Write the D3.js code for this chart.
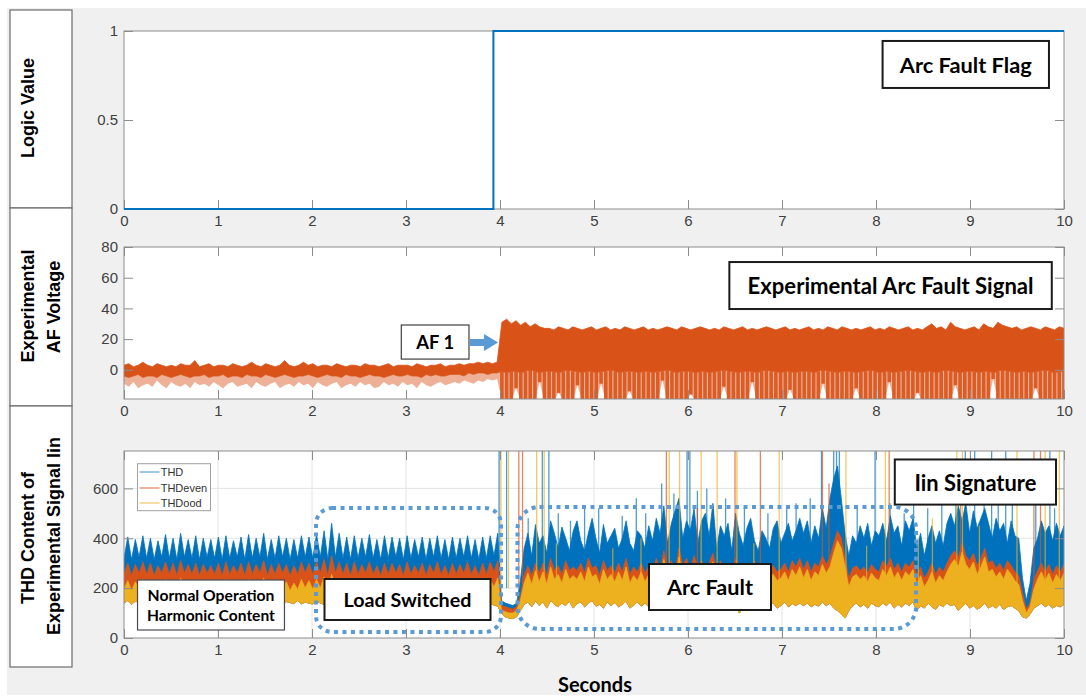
<!DOCTYPE html>
<html><head><meta charset="utf-8">
<script src="https://cdn.jsdelivr.net/npm/d3@7"></script>
<style>body{margin:0;background:#fff;} svg{display:block}</style>
</head><body><svg id="c" width="1086" height="696"></svg>
<script>
// ---------------- data ----------------
const xTicks = [0,1,2,3,4,5,6,7,8,9,10];
const flagTicks = [0,0.5,1];
const afTicks = [0,20,40,60,80];
const thdTicks = [0,200,400,600];

const flagT = [0, 3.93, 3.93, 10];
const flagV = [0, 0, 1, 1];

// experimental AF voltage, envelope per 0.05 s bin (200 bins)
const afHi = [3,4,2,3,5,3,2,4,3,2, 3,2,4,3,3,6,2,3,4,2, 3,3,2,4,3,2,3,5,3,2, 4,3,2,3,6,3,2,3,5,3,
 4,2,3,3,2,4,3,2,3,3, 2,4,3,3,2,3,4,2,3,3, 3,2,4,3,2,3,3,4,2,3, 3,4,3,4,4,5,4,5,4,5,
 31,33,30,32,29,31,28,30,28,27, 27,26,28,27,26,28,27,26,27,28, 26,27,28,26,27,26,28,27,26,27,
 28,26,27,26,27,28,27,26,28,27, 26,27,28,27,26,27,26,28,27,26, 27,28,26,27,26,27,28,27,26,27,
 28,26,27,26,27,28,26,27,26,28, 27,26,28,27,26,27,26,27,28,26, 27,26,28,27,26,27,28,26,27,26,
 28,30,27,28,26,31,28,27,26,27, 28,26,30,28,27,31,29,28,27,28, 26,27,28,27,26,28,27,26,28,27];
const afLo = [-4,-5,-4,-3,-5,-4,-4,-5,-3,-4, -5,-4,-3,-4,-5,-4,-4,-3,-5,-4, -4,-3,-5,-4,-4,-5,-3,-4,-4,-5,
 -3,-4,-5,-4,-3,-4,-5,-4,-4,-3, -4,-5,-4,-3,-4,-4,-5,-3,-4,-4, -5,-4,-3,-4,-4,-5,-4,-3,-4,-4,
 -3,-4,-4,-5,-3,-4,-3,-4,-4,-3, -3,-3,-4,-2,-3,-2,-2,-3,-2,-2,
 -1,-2,-1,-1,-2,-1,0,-1,-2,-1, -1,-1,-2,-1,0,-1,-1,-2,-1,-1, -2,-1,-1,0,-1,-2,-1,-1,-1,-2,
 -1,-1,-2,-1,-1,0,-1,-2,-1,-1, -1,-2,-1,-1,-2,-1,-1,0,-1,-1, -2,-1,-1,-1,-2,-1,0,-1,-1,-2,
 -1,-1,-2,-1,-1,-1,-2,-1,0,-1, -1,-2,-1,-1,-1,-2,-1,-1,0,-1, -2,-1,-1,-2,-1,-1,0,-1,-1,-2,
 -1,-1,-2,-1,0,-1,-1,-2,-1,-1, -1,-2,-1,-1,-2,-1,0,-1,-1,-2, -1,-1,-2,-1,-1,0,-1,-2,-1,-1];
const afDip = [-9,-11,-8,-12,-10,-9,-11,-7,-10,-12, -8,-10,-11,-9,-12,-8,-10,-9,-11,-8, -10,-12,-9,-8,-11,-10,-9,-12,-8,-10,
 -11,-9,-8,-12,-10,-9,-11,-8,-10,-9, -12,-8,-10,-11,-9,-8,-12,-10,-9,-11, -8,-10,-9,-12,-11,-8,-10,-9,-11,-8,
 -10,-9,-12,-8,-10,-11,-9,-8,-10,-9, -8,-9,-7,-8,-9,-7,-8,-6,-7,-6,
 -20,-20,-20,-12,-20,-20,-20,-20,-8,-20, -20,-20,-15,-20,-20,-20,-10,-20,-20,-20, -20,-9,-20,-20,-20,-20,-20,-14,-20,-20,
 -20,-20,-20,-20,-7,-20,-20,-20,-20,-20, -16,-20,-20,-20,-20,-20,-20,-11,-20,-20, -20,-20,-20,-8,-20,-20,-20,-20,-20,-20,
 -20,-13,-20,-20,-20,-20,-20,-20,-9,-20, -20,-20,-20,-20,-20,-12,-20,-20,-20,-20, -20,-20,-8,-20,-20,-20,-20,-20,-15,-20,
 -20,-20,-20,-20,-20,-20,-10,-20,-20,-20, -20,-20,-20,-20,-6,-20,-20,-20,-20,-20, -20,-20,-20,-12,-20,-20,-20,-20,-20,-20];

// THD content, upper envelope per 0.04 s bin (250 bins)
const thdHi = [320,405,315,395,325,410,320,400,315,390, 325,415,320,400,315,420,325,395,320,410,
 315,400,325,395,320,405,315,410,320,390, 325,405,315,415,320,400,325,420,315,395,
 320,410,325,400,315,395,320,410,325,405, 320,415,325,430,315,460,325,420,320,405,
 315,410,320,400,325,415,320,395,315,410, 320,405,325,400,315,410,320,395,325,405,
 315,400,325,410,320,395,315,405,320,400, 325,410,320,395,315,405,320,410,330,420,
 150,140,135,130,140,230,360,420,330,455, 380,410,340,470,420,360,445,400,350,430,
 470,390,350,420,480,400,340,455,380,410, 440,360,400,470,380,350,430,410,360,450,
 390,480,420,530,380,460,510,560,400,470, 430,520,380,470,500,410,540,360,450,410,
 460,350,500,420,370,440,480,390,350,430, 400,360,440,470,380,420,460,390,430,480,
 420,470,380,450,400,520,440,560,640,690, 560,420,330,410,380,450,400,460,370,430,
 410,460,390,490,420,450,370,470,430,480, 360,420,330,400,450,380,430,370,460,500,
 450,530,470,540,420,510,440,480,520,460, 400,480,430,460,380,470,410,400,240,150,
 220,360,400,470,420,450,390,460,410,450];
const evenHi = [255,300,250,295,260,305,255,300,250,290, 260,305,255,300,250,310,260,295,255,300,
 250,295,260,290,255,300,250,305,255,290, 260,300,250,305,255,295,260,310,250,295,
 255,300,260,295,250,290,255,305,260,300, 255,305,260,315,250,330,260,305,255,300,
 250,305,255,295,260,305,255,290,250,300, 255,300,260,295,250,305,255,290,260,300,
 250,295,260,305,255,290,250,300,255,295, 260,305,255,290,250,300,255,305,265,310,
 130,125,120,115,125,170,250,290,250,300, 260,300,250,320,270,290,255,310,270,285,
 270,300,260,320,280,290,250,310,270,290, 260,300,265,320,255,285,265,300,260,290,
 270,320,265,350,280,310,265,360,290,320, 270,330,285,310,265,300,340,270,310,275,
 300,260,320,280,250,300,270,310,260,285, 250,280,290,265,275,300,265,310,285,320,
 275,310,265,300,285,330,295,320,380,430, 400,320,240,280,290,270,285,260,295,275,
 265,310,285,320,275,300,265,300,285,310, 250,285,240,265,300,255,285,265,300,330,
 350,320,380,330,310,340,290,320,360,300, 310,280,300,270,310,290,265,250,180,115,
 140,230,270,300,265,295,255,290,265,295];
const oddHi = [195,230,190,225,200,235,195,230,190,220, 200,235,195,230,190,240,200,225,195,230,
 190,225,200,220,195,230,190,235,195,220, 200,230,190,235,195,225,200,240,190,225,
 195,230,200,225,190,220,195,235,200,230, 195,235,200,245,190,255,200,235,195,230,
 190,235,195,225,200,235,195,220,190,230, 195,230,200,225,190,235,195,220,200,230,
 190,225,200,235,195,220,190,230,195,225, 200,235,195,220,190,230,195,235,205,240,
 110,105,100,100,110,150,220,260,215,270, 225,265,215,285,235,255,220,275,235,250,
 235,265,225,285,245,255,215,275,235,255, 225,265,230,285,220,250,230,265,225,255,
 235,285,230,315,245,275,230,325,255,285, 235,295,250,275,230,265,305,235,275,240,
 265,225,285,245,215,265,235,275,225,250, 215,245,255,230,240,265,230,275,250,285,
 240,275,230,265,250,295,260,285,340,390, 360,285,205,245,255,235,250,225,260,240,
 230,275,250,285,240,265,230,265,250,275, 215,250,205,230,265,220,250,230,265,295,
 315,285,345,295,275,305,255,285,325,265, 275,245,265,235,275,255,230,215,150,100,
 125,195,235,265,230,260,220,255,230,260];
const thdFloor = [140,150,135,148,142,138,150,136,145,140, 138,148,135,150,140,137,146,142,135,150,
 140,145,137,150,138,143,148,135,140,147, 136,150,141,138,147,135,144,150,139,136,
 148,140,135,146,142,138,150,137,144,140, 136,149,140,135,146,141,138,150,135,143,
 147,138,142,150,136,141,148,135,145,140, 138,150,136,144,147,139,135,148,142,137,
 150,140,136,146,141,138,149,135,143,147, 139,136,150,142,137,145,140,138,132,128,
 100,85,80,78,85,110,135,145,125,150, 130,145,120,150,135,125,140,130,148,120,
 138,145,125,140,150,128,135,120,145,130, 142,125,135,148,120,132,145,128,140,125,
 135,145,120,150,130,140,125,110,135,145, 128,140,120,135,125,140,150,115,135,125,
 140,120,135,100,125,140,115,130,120,135, 125,135,140,120,130,145,125,138,130,140,
 130,140,125,135,128,145,130,140,120,110, 95,80,110,130,140,125,135,120,140,130,
 125,140,130,145,120,135,125,140,130,145, 110,130,120,140,125,115,135,125,140,130,
 135,110,125,140,120,130,115,125,140,120, 130,120,135,115,125,130,120,110,85,80,
 95,120,130,140,125,135,120,130,125,135];

// isolated spikes (time s, peak value)
const spikeThdT   = [3.99,4.07,4.3,4.45,4.52,4.62,4.75,4.9,5.05,5.3,5.45,5.55,5.72,5.85,5.99,6.02,6.1,6.2,6.27,6.4,6.6,6.85,
  7.05,7.15,7.3,7.42,7.55,7.58,7.61,7.8,7.99,8.15,8.3,8.4,8.55,8.7,8.85,8.95,9.05,9.15,9.23,9.3,9.38,9.45,9.7,9.85,9.9];
const spikeThdTop = [800,800,480,800,800,500,470,520,520,490,560,500,620,580,800,800,590,600,530,560,520,500,
  520,540,560,800,800,800,800,520,800,540,500,560,520,560,620,800,800,600,800,540,800,560,560,800,520];
const spikeEvenT   = [4.2,4.24,5.77,6.1,6.5,6.77,7.43,7.5,8.14,8.9,9.68,9.75];
const spikeEvenTop = [800,800,800,520,800,800,800,620,800,560,800,800];
const spikeOddT   = [4.01,4.09,4.39,4.47,4.6,5.2,5.5,5.8,5.91,6.14,6.31,6.52,6.7,6.97,7.68,7.9,8.1,8.45,8.6,8.86,8.92,9.1,9.5,9.8,9.95];
const spikeOddTop = [800,800,800,800,380,360,400,800,800,800,800,800,380,800,800,370,800,400,480,800,800,450,800,800,800];

const legendNames = ["THD","THDeven","THDood"];

// ---------------- layout ----------------
const COL = {thd:'#0072BD', even:'#D95319', odd:'#EDB120'};
const LEG = ['#7db6de','#eb9a7b','#f4d089'];
const X0 = 124, X1 = 1064;
const x = d3.scaleLinear([0,10],[X0,X1]);
const y1 = d3.scaleLinear([0,1],[209,31]);
const y2 = d3.scaleLinear([-19,80],[399,247]);
const y3 = d3.scaleLinear([0,750],[638,451]);

const svg = d3.select('#c');
svg.append('rect').attr('x',7).attr('y',8).attr('width',1079).attr('height',687).attr('fill','#f0f0f0');
const defs = svg.append('defs');

// left label boxes
[[10,208],[208,406],[406,667]].forEach(([a,b])=>{
  svg.append('rect').attr('x',10).attr('y',a).attr('width',62).attr('height',b-a)
    .attr('fill','#fff').attr('stroke','#6b6b6b').attr('stroke-width',1.2);
});
function vlabel(cx, cy, txt){
  svg.append('text').attr('transform',`translate(${cx},${cy}) rotate(-90)`)
    .attr('text-anchor','middle').attr('dominant-baseline','central')
    .attr('font-family','Liberation Sans, Arial, sans-serif').attr('font-weight','bold')
    .attr('font-size',18).attr('fill','#000').text(txt);
}
vlabel(28,108,'Logic Value');
vlabel(28,306,'Experimental');
vlabel(54,307,'AF Voltage');
vlabel(28,538,'THD Content of');
vlabel(54,536,'Experimental Signal Iin');

function panel(id, y, grid){
  const [b,t] = y.range();
  svg.append('rect').attr('x',X0).attr('y',t).attr('width',X1-X0).attr('height',b-t).attr('fill','#fff');
  if(grid){
    const gg = svg.append('g').attr('stroke','#e4e4e4').attr('stroke-width',1);
    gg.selectAll('.gx').data(xTicks.slice(1,-1)).join('line')
      .attr('x1',d=>x(d)).attr('x2',d=>x(d)).attr('y1',t).attr('y2',b);
    gg.selectAll('.gy').data(grid).join('line')
      .attr('x1',X0).attr('x2',X1).attr('y1',d=>y(d)).attr('y2',d=>y(d));
  }
  defs.append('clipPath').attr('id',id).append('rect').attr('x',X0).attr('y',t).attr('width',X1-X0).attr('height',b-t);
  return svg.append('g').attr('clip-path',`url(#${id})`);
}
function axes(y, ticks, topTicks){
  const [b,t] = y.range();
  const st = g => {
    g.attr('font-size',15).attr('font-family','Liberation Sans, Arial, sans-serif');
    g.selectAll('.domain').remove();
    g.selectAll('.tick line').attr('stroke','#8c8c8c');
    g.selectAll('text').attr('fill','#404040');
  };
  svg.append('g').attr('transform',`translate(0,${b})`)
    .call(d3.axisBottom(x).tickValues(xTicks).tickSizeInner(-9).tickSizeOuter(0).tickPadding(6).tickFormat(d3.format('d'))).call(st);
  if(topTicks) svg.append('g').attr('transform',`translate(0,${t})`)
    .call(d3.axisTop(x).tickValues(xTicks).tickSizeInner(-9).tickSizeOuter(0).tickFormat('')).call(st);
  svg.append('g').attr('transform',`translate(${X0},0)`)
    .call(d3.axisLeft(y).tickValues(ticks).tickSizeInner(-9).tickSizeOuter(0).tickPadding(6).tickFormat(d=>String(d))).call(st);
  svg.append('g').attr('transform',`translate(${X1},0)`)
    .call(d3.axisRight(y).tickValues(ticks).tickSizeInner(-9).tickSizeOuter(0).tickFormat('')).call(st);
  svg.append('rect').attr('x',X0).attr('y',t).attr('width',X1-X0).attr('height',b-t)
    .attr('fill','none').attr('stroke','#8c8c8c').attr('stroke-width',1);
}

// ---- panel 1: flag
const p1 = panel('cl1', y1, null);
axes(y1, flagTicks, false);
svg.append('path').datum(flagT.map((t,i)=>[t,flagV[i]]))
  .attr('d', d3.line().x(d=>x(d[0])).y(d=>y1(d[1])))
  .attr('fill','none').attr('stroke',COL.thd).attr('stroke-width',2);

// ---- panel 2: AF voltage
const p2 = panel('cl2', y2, null);
const afT = afHi.map((d,i)=> i*10/(afHi.length-1));
p2.append('path').datum(afDip)
  .attr('d', d3.area().x((d,i)=>x(afT[i])).y0((d,i)=>y2(afLo[i])).y1(d=>y2(d)))
  .attr('fill',COL.even).attr('fill-opacity',0.45);
p2.append('g').selectAll('line').data(afDip).join('line')
  .attr('x1',(d,i)=>x(afT[i])).attr('x2',(d,i)=>x(afT[i]))
  .attr('y1',(d,i)=>y2(afLo[i])).attr('y2',d=>y2(d))
  .attr('stroke',COL.even).attr('stroke-opacity',(d,i)=>afHi[i]>15?0.9:0)
  .attr('stroke-width',3.6);
p2.append('path').datum(afHi)
  .attr('d', d3.area().x((d,i)=>x(afT[i])).y0((d,i)=>y2(afLo[i])).y1(d=>y2(d)))
  .attr('fill',COL.even).attr('stroke',COL.even).attr('stroke-width',0.8);
axes(y2, afTicks, true);

// ---- panel 3: THD
const p3 = panel('cl3', y3, [200,400,600]);
const thdT = thdHi.map((d,i)=> i*10/(thdHi.length-1));
function series(hi, col, sT, sTop){
  p3.append('g').selectAll('line').data(sT).join('line')
    .attr('x1',d=>x(d)).attr('x2',d=>x(d)).attr('y1',y3(200)).attr('y2',(d,i)=>y3(sTop[i]))
    .attr('stroke',col).attr('stroke-width',1.3).attr('stroke-opacity',0.7);
  p3.append('path').datum(hi)
    .attr('d', d3.area().x((d,i)=>x(thdT[i])).y0((d,i)=>y3(thdFloor[i])).y1(d=>y3(d)))
    .attr('fill',col).attr('stroke',col).attr('stroke-width',0.8).attr('stroke-linejoin','bevel');
}
series(thdHi, COL.thd, spikeThdT, spikeThdTop);
series(evenHi, COL.even, spikeEvenT, spikeEvenTop);
series(oddHi, COL.odd, spikeOddT, spikeOddTop);
axes(y3, thdTicks, true);

// legend
{
  const lx = x(0.144), ly = y3(699), lw = x(0.92)-x(0.144), lh = y3(510.6)-y3(699);
  svg.append('rect').attr('x',lx).attr('y',ly).attr('width',lw).attr('height',lh)
    .attr('fill','#fff').attr('stroke','#a0a0a0').attr('stroke-width',1);
  const rows = [665.8, 601.6, 541.5];
  legendNames.forEach((n,i)=>{
    svg.append('line').attr('x1',x(0.166)).attr('x2',x(0.378)).attr('y1',y3(rows[i])).attr('y2',y3(rows[i]))
      .attr('stroke',LEG[i]).attr('stroke-width',1.5);
    svg.append('text').attr('x',x(0.39)).attr('y',y3(rows[i])).attr('dominant-baseline','central')
      .attr('font-family','Liberation Sans, Arial, sans-serif').attr('font-size',11).attr('fill','#333').text(n);
  });
}

// ---------------- annotations ----------------
function fit(t, w){
  const cur = t.node().getComputedTextLength();
  if(cur>0) t.attr('font-size', (+t.attr('font-size'))*w/cur);
}
function note(y, xa, xb, ya, yb, lines, widths, sw, stroke, lineGap){
  const px = x(xa), pw = x(xb)-x(xa), py = y(ya), ph = y(yb)-y(ya);
  svg.append('rect').attr('x',px).attr('y',py).attr('width',pw).attr('height',ph)
    .attr('fill','#fff').attr('stroke',stroke).attr('stroke-width',sw);
  const cx = px+pw/2, cy = py+ph/2;
  lines.forEach((s,i)=>{
    const off = (i-(lines.length-1)/2)*lineGap;
    const t = svg.append('text').attr('x',cx).attr('y',cy+off).attr('text-anchor','middle')
      .attr('dominant-baseline','central').attr('font-family','Lato, "Open Sans", sans-serif')
      .attr('font-weight','bold').attr('font-size',20).attr('fill','#000').text(s);
    fit(t, widths[i]);
  });
}
note(y1, 8.07, 9.84, 0.944, 0.680, ['Arc Fault Flag'], [132], 2, '#1a1a1a', 0);
note(y2, 6.44, 9.87, 70.2, 39.6, ['Experimental Arc Fault Signal'], [286], 2, '#1a1a1a', 0);
note(y2, 2.95, 3.67, 29.2, 7.0, ['AF 1'], [38], 1.2, '#404040', 0);
note(y3, 8.20, 9.915, 716, 535, ['Iin Signature'], [122], 2, '#1a1a1a', 0);

function region(xa, xb, ya, yb, r){
  svg.append('rect').attr('x',x(xa)).attr('y',y3(ya)).attr('width',x(xb)-x(xa)).attr('height',y3(yb)-y3(ya))
    .attr('rx',r).attr('ry',r).attr('fill','none').attr('stroke','#5b9bd5')
    .attr('stroke-width',4).attr('stroke-dasharray','4 4.5');
}
region(2.043, 4.011, 521.4, 24.1, 16);
region(4.186, 8.426, 525.4, 36.1, 22);

note(y3, 2.133, 3.899, 236.6, 72.2, ['Load Switched'], [128], 2, '#1a1a1a', 0);
note(y3, 5.585, 6.883, 296.8, 112.3, ['Arc Fault'], [86], 2, '#1a1a1a', 0);
note(y3, 0.144, 1.707, 232.6, 32.1, ['Normal Operation','Harmonic Content'], [127,128], 1.2, '#4a4a55', 20);

{
  const a0 = x(3.68), a1 = x(3.83), a2 = x(3.98), ay = y2(17.8);
  const pts = [[a0,ay-3.5],[a1,ay-3.5],[a1,ay-8.5],[a2,ay],[a1,ay+8.5],[a1,ay+3.5],[a0,ay+3.5]];
  svg.append('polygon').attr('points', pts.map(p=>p.join(',')).join(' ')).attr('fill','#5b9bd5');
}

{
  const t = svg.append('text').attr('x',595).attr('y',684).attr('text-anchor','middle')
    .attr('dominant-baseline','central').attr('font-family','Lato, "Open Sans", sans-serif')
    .attr('font-weight','bold').attr('font-size',20).attr('fill','#000').text('Seconds');
  fit(t, 74);
}
</script></body></html>
